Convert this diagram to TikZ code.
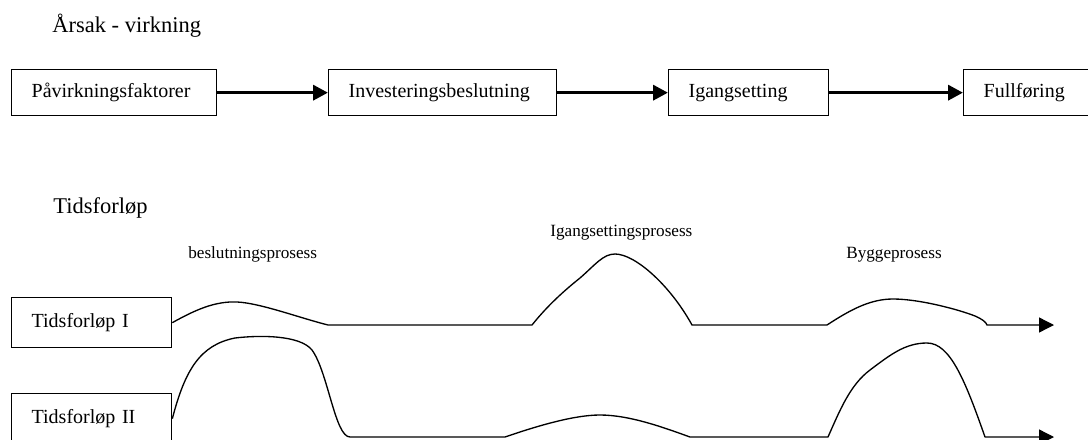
\documentclass[tikz,border=0pt]{standalone}
\usepackage{fontspec}
\setmainfont{Liberation Serif}
\usetikzlibrary{arrows.meta}

\begin{document}
\begin{tikzpicture}[x=0.6pt, y=-0.6pt,
    boks/.style={draw, line width=0.8pt, anchor=north west, align=left,
        inner xsep=12pt, font=\fontsize{12}{14}\selectfont},
    overskrift/.style={anchor=base west, inner sep=0pt, font=\fontsize{13.5}{16}\selectfont},
    etikett/.style={anchor=base west, inner sep=0pt, font=\fontsize{10.3}{12}\selectfont},
    pil/.style={line width=2.1pt, -{Triangle[length=9pt, width=9pt]}},
    kurve/.style={line width=0.8pt, line join=round, -{Triangle[length=9pt, width=9pt]}}]

    \useasboundingbox (0,0) rectangle (1088,439);

    % Aarsak - virkning (top)
    \node[overskrift] (tittel1) at (52,32) {Årsak - virkning};
    \node[boks, minimum height=27.6pt, text width=99pt] (faktorer) at (11,69) {Påvirkningsfaktorer};
    \node[boks, minimum height=27.6pt, text width=112.8pt] (beslutning) at (328,69) {Investeringsbeslutning};
    \node[boks, minimum height=27.6pt, text width=72pt] (igang) at (668,69) {Igangsetting};
    \node[boks, minimum height=27.6pt, text width=60pt] (fullf) at (963,69) {Fullføring};
    \draw[pil] (faktorer.east) -- (beslutning.west);
    \draw[pil] (beslutning.east) -- (igang.west);
    \draw[pil] (igang.east) -- (fullf.west);

    % Tidsforloep (bottom)
    \node[overskrift] (tittel2) at (53,213) {Tidsforløp};
    \node[etikett] (besl) at (188,258) {beslutningsprosess};
    \node[etikett] (igangp) at (550,236) {Igangsettingsprosess};
    \node[etikett] (bygg) at (846,258) {Byggeprosess};
    \node[boks, minimum height=30pt, text width=72pt] (tf1) at (11,297) {Tidsforløp I};
    \node[boks, minimum height=30pt, text width=72pt] (tf2) at (11,393) {Tidsforløp II};
    \coordinate (slutt1) at (1054,325);
    \coordinate (slutt2) at (1054,437);

    % forloep I
    \draw[kurve] (tf1.east) .. controls (195,310) and (215,301) .. (237,302)
        .. controls (260,303) and (300,318) .. (328,325) -- (532,325)
        .. controls (548,305) and (565,290) .. (580,278)
        .. controls (595,265) and (603,254) .. (615,254)
        .. controls (635,254) and (670,285) .. (692,325) -- (827,325)
        .. controls (850,310) and (870,299) .. (893,299)
        .. controls (920,299) and (960,310) .. (975,316)
        .. controls (982,319) and (986,322) .. (987,325) -- (slutt1);

    % forloep II
    \draw[kurve] (tf2.east) .. controls (185,370) and (200,345) .. (235,338)
        .. controls (260,335) and (300,335) .. (312,350)
        .. controls (328,372) and (335,437) .. (350,437) -- (505,437)
        .. controls (540,425) and (575,415) .. (600,415)
        .. controls (630,415) and (665,428) .. (690,437) -- (828,437)
        .. controls (840,410) and (850,385) .. (870,370)
        .. controls (890,355) and (905,343) .. (927,343)
        .. controls (950,343) and (965,380) .. (985,437) -- (slutt2);

\end{tikzpicture}
\end{document}
